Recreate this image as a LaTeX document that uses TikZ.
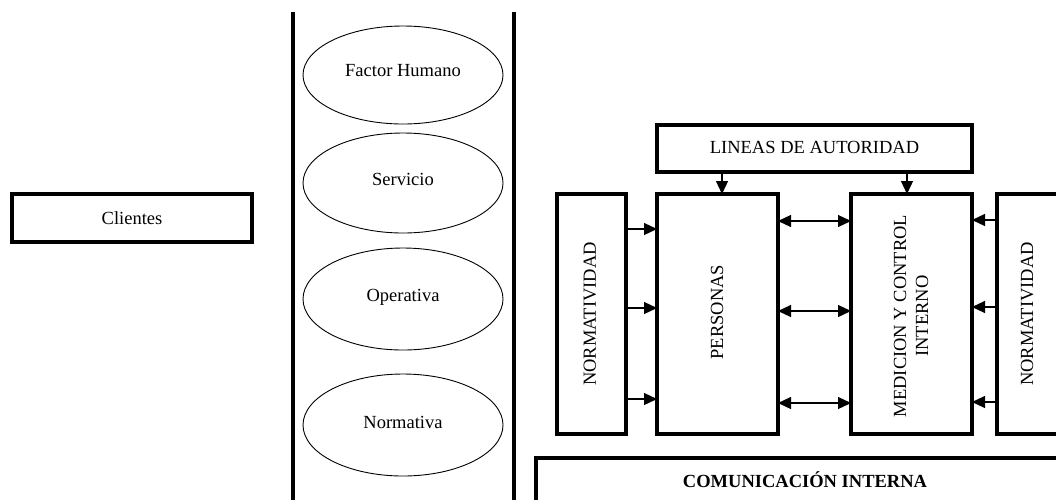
\documentclass[tikz,border=0pt]{standalone}
\usepackage{fontspec}
\setmainfont{Liberation Serif}
\usetikzlibrary{arrows.meta,shapes.geometric}
\begin{document}
\begin{tikzpicture}[x=1pt,y=-1pt,
  every node/.style={font=\fontsize{18.5}{22}\selectfont},
  thickbox/.style={draw, line width=3.5pt, inner sep=0pt, outer sep=0pt},
  oval/.style={draw, ellipse, line width=0.9pt, minimum width=200pt, inner sep=0pt},
  vtext/.style={rotate=90, align=center, inner sep=0pt},
  arr/.style={line width=1.2pt, -{Triangle[length=13pt,width=12pt]}},
  darr/.style={line width=1.2pt, {Triangle[length=13pt,width=12pt]}-{Triangle[length=13pt,width=12pt]}},
  divider/.style={line width=3.5pt}
]
\useasboundingbox (0,0) rectangle (1056,499);
\clip (0,0) rectangle (1056,499);

% left box
\node[thickbox, minimum width=240pt, minimum height=48pt] (cli) at (132,218) {};
\node (clit) at (132,218) {Clientes};

% dividers
\coordinate (d1t) at (293,12);
\coordinate (d1b) at (293,505);
\coordinate (d2t) at (514,12);
\coordinate (d2b) at (514,505);
\draw[divider] (d1t) -- (d1b);
\draw[divider] (d2t) -- (d2b);

% ellipses
\node[oval, minimum height=98pt] (fh) at (403,75) {};
\node (fht) at (403,71) {Factor Humano};
\node[oval, minimum height=100pt] (se) at (403,183) {};
\node (set) at (403,179) {Servicio};
\node[oval, minimum height=102pt] (op) at (403,299) {};
\node (opt) at (403,297) {Operativa};
\node[oval, minimum height=102pt] (no) at (403,425) {};
\node (not) at (403,422) {Normativa};

% right side
\node[thickbox, minimum width=315pt, minimum height=47pt] (lin) at (814.5,148.5) {};
\node (lint) at (814.5,147) {LINEAS DE AUTORIDAD};

\node[thickbox, minimum width=69pt, minimum height=240pt] (normL) at (591.5,314) {};
\node[vtext] (normLt) at (590,314) {NORMATIVIDAD};
\node[thickbox, minimum width=121pt, minimum height=240pt] (pers) at (717.5,314) {};
\node[vtext] (perst) at (717,312) {PERSONAS};
\node[thickbox, minimum width=121pt, minimum height=240pt] (med) at (911.5,314) {};
\node[vtext] (medt) at (911,316) {MEDICION Y CONTROL\\INTERNO};
\node[thickbox, minimum width=130pt, minimum height=240pt] (normR) at (1062,314) {};
\node[vtext] (normRt) at (1027,314) {NORMATIVIDAD};

\node[thickbox, minimum width=600pt, minimum height=80pt] (comm) at (836,498) {};
\node[font=\fontsize{18.5}{22}\selectfont\bfseries] (commt) at (805,480) {COMUNICACIÓN INTERNA};

% arrows from LINEAS
\draw[arr] (lin.south -| 722,0) -- (pers.north -| 722,0);
\draw[arr] (lin.south -| 907,0) -- (med.north -| 907,0);

% left normatividad -> personas
\draw[arr] (normL.east |- 0,229) -- (pers.west |- 0,229);
\draw[arr] (normL.east |- 0,308) -- (pers.west |- 0,308);
\draw[arr] (normL.east |- 0,399) -- (pers.west |- 0,399);

% personas <-> medicion
\draw[darr] (pers.east |- 0,221) -- (med.west |- 0,221);
\draw[darr] (pers.east |- 0,311) -- (med.west |- 0,311);
\draw[darr] (pers.east |- 0,403) -- (med.west |- 0,403);

% right normatividad -> medicion
\draw[arr] (normR.west |- 0,220) -- (med.east |- 0,220);
\draw[arr] (normR.west |- 0,307) -- (med.east |- 0,307);
\draw[arr] (normR.west |- 0,402) -- (med.east |- 0,402);
\end{tikzpicture}
\end{document}
